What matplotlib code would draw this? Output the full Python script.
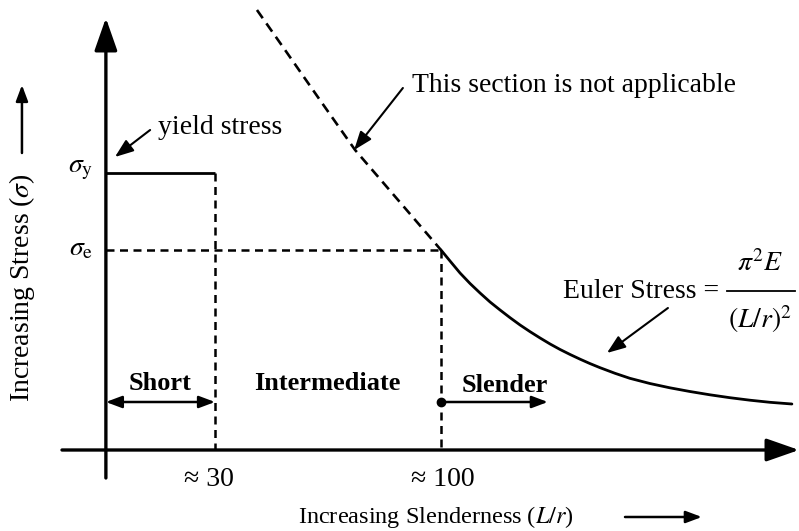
import matplotlib
matplotlib.use("Agg")
import matplotlib.pyplot as plt

plt.rcParams["font.family"] = ["Liberation Serif", "DejaVu Serif"]
plt.rcParams["mathtext.fontset"] = "stix"

INK = "#000000"

# slenderness limits (L/r) and stress levels (arbitrary units)
SHORT_LIMIT = 30
SLENDER_LIMIT = 100
SIGMA_Y = 277
SIGMA_E = 200
AXIS_X0 = -3.8          # where the stress axis crosses the slenderness axis

# Euler curve as drawn: dashed part (not applicable) and solid part
dash_x = [43.0, 51.7, 62.5, 73.4, 86.7, 100.0]
dash_y = [440, 400, 350, 300, 250, 200]
euler_x = [100.0, 102.8, 105.9, 109.0, 112.1, 115.2, 118.3, 121.4, 124.5,
           127.6, 130.7, 133.8, 136.9, 140.0, 143.1, 146.1, 149.2, 153.9,
           158.5, 164.7, 170.9, 177.1, 183.3, 189.5, 195.7, 201.9, 208.7]
euler_y = [200, 189, 177, 166.5, 157, 148, 140, 132.3, 125,
           118.3, 112, 106, 100.5, 95.5, 90.8, 86.5, 82.4, 76.7,
           71.7, 66.5, 62.2, 58.5, 55.2, 52.3, 49.8, 47.7, 46.0]

fig = plt.figure(figsize=(7.99, 5.31), dpi=100, facecolor="white")
ax = fig.add_axes([0, 0, 1, 1])
ax.set_xlim(-36.6, 210.9)
ax.set_ylim(-81, 450)
ax.axis("off")

FS = 20
DASH = (0, (3.2, 2.2))


def arrow(tail, head, lw=2.0, style="-|>,head_length=0.8,head_width=0.3", scale=14):
    ax.annotate("", xy=head, xytext=tail,
                arrowprops=dict(arrowstyle=style, lw=lw, color=INK,
                                shrinkA=0, shrinkB=0, mutation_scale=scale))


# axes
arrow((AXIS_X0, -28), (AXIS_X0, 432), lw=2.4, style="-|>,head_length=1.0,head_width=0.35", scale=20)
arrow((-17.4, 0), (210.9, 0), lw=2.4, style="-|>,head_length=1.0,head_width=0.35", scale=20)

# yield plateau and limit lines
ax.plot([AXIS_X0, SHORT_LIMIT], [SIGMA_Y, SIGMA_Y], color=INK, lw=2.0, solid_capstyle="butt")
ax.plot([SHORT_LIMIT, SHORT_LIMIT], [SIGMA_Y, 0], color=INK, lw=1.8, ls=DASH)
ax.plot([AXIS_X0, SLENDER_LIMIT], [SIGMA_E, SIGMA_E], color=INK, lw=1.8, ls=DASH)
ax.plot([SLENDER_LIMIT, SLENDER_LIMIT], [SIGMA_E, 0], color=INK, lw=1.8, ls=DASH)

# Euler curve
ax.plot(dash_x, dash_y, color=INK, lw=1.9, ls=(0, (3.8, 2.4)))
ax.plot(euler_x, euler_y, color=INK, lw=2.0, solid_capstyle="round", solid_joinstyle="round")

# stress labels
ax.text(-11.5, SIGMA_Y + 3, r"$\sigma_{\rm y}$", fontsize=FS, ha="center", va="center")
ax.text(-11.5, SIGMA_E + 1, r"$\sigma_{\rm e}$", fontsize=FS, ha="center", va="center")

# annotations
ax.text(12.3, 323, "yield stress", fontsize=FS, ha="left", va="center")
arrow((9.9, 320), (-1.0, 293), lw=1.5, scale=14)
ax.text(91.0, 365, "This section is not applicable", fontsize=FS, ha="left", va="center")
arrow((88.2, 362), (73.1, 300), lw=1.5, scale=14)
ax.text(137.8, 159, "Euler Stress =", fontsize=FS, ha="left", va="center")
ax.text(198.8, 186, r"$\pi^2 E$", fontsize=FS, ha="center", va="center")
ax.text(198.8, 131, r"$(L/r)^2$", fontsize=FS, ha="center", va="center")
ax.plot([188.6, 209.7], [159, 159], color=INK, lw=1.3)
arrow((170.3, 142), (151.4, 97), lw=1.5, scale=14)

# regions
ax.text(13.0, 67, "Short", fontsize=19, fontweight="bold", ha="center", va="center")
ax.text(64.7, 67, "Intermediate", fontsize=19, fontweight="bold", ha="center", va="center")
ax.text(119.8, 64, "Slender", fontsize=19, fontweight="bold", ha="center", va="center")
arrow((AXIS_X0, 48), (SHORT_LIMIT, 48), lw=1.8,
      style="<|-|>,head_length=0.8,head_width=0.3", scale=12)
arrow((SLENDER_LIMIT, 48), (133.1, 48), lw=1.8, scale=12)
ax.plot([SLENDER_LIMIT], [48], "o", color=INK, ms=6)

# tick labels
ax.text(SHORT_LIMIT - 1.9, -30, "\u2248 30", fontsize=FS, ha="center", va="center")
ax.text(SLENDER_LIMIT + 0.6, -30, "\u2248 100", fontsize=FS, ha="center", va="center")

# axis titles
ax.text(55.7, -67, r"Increasing Slenderness ($L/r$)", fontsize=17.5, ha="left", va="center")
arrow((157.0, -67), (180.8, -67), lw=1.8, scale=12)
ax.text(-29.8, 162, r"Increasing Stress ($\sigma$)", fontsize=FS, rotation=90,
        ha="center", va="center")
arrow((-29.8, 297), (-29.8, 365), lw=1.8, scale=12)

fig.savefig("out.png", dpi=100, facecolor="white")
